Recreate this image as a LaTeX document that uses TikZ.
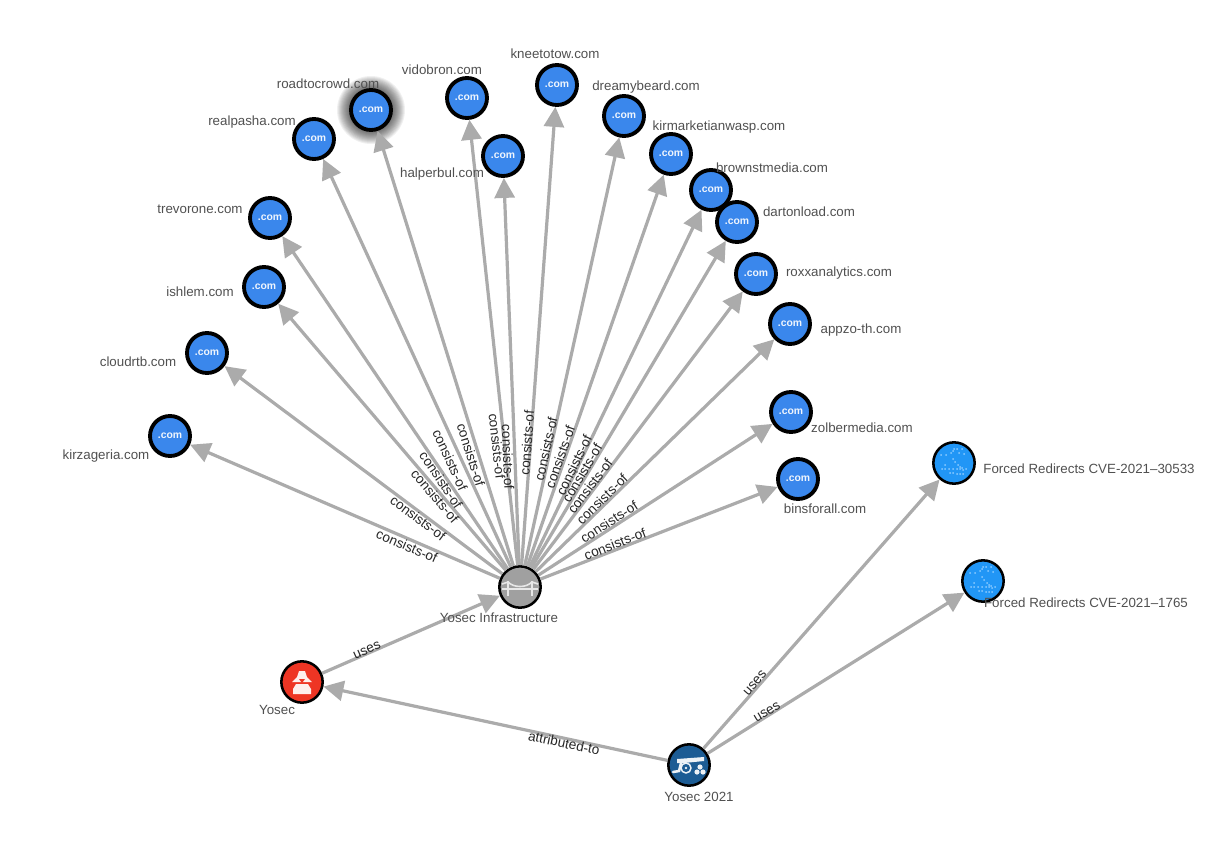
\documentclass[tikz,border=0pt]{standalone}
\usepackage{fontspec}
\setmainfont{Liberation Sans}
\usetikzlibrary{arrows.meta}
\definecolor{edgegrey}{HTML}{ABABAB}
\definecolor{domblue}{HTML}{3A87EC}
\definecolor{infragrey}{HTML}{A0A0A0}
\definecolor{actorred}{HTML}{EE3524}
\definecolor{campblue}{HTML}{1C5C94}
\definecolor{patblue}{HTML}{2196F6}
\definecolor{patdot}{HTML}{8CCBFF}
\definecolor{labgrey}{HTML}{505050}
\tikzset{
  edge/.style={draw=edgegrey,line width=2.4pt,-{Triangle[length=15pt,width=15pt]}},
  edgelab/.style={font=\fontsize{10.2pt}{12pt}\selectfont,text=black!85,inner sep=0pt},
  nodelab/.style={font=\fontsize{10pt}{12pt}\selectfont,text=labgrey,inner sep=0pt},
  dom/.style={circle,draw=black,fill=domblue,line width=2.9pt,minimum size=30pt,inner sep=0pt,text=white!92!domblue,font=\bfseries\fontsize{7.8pt}{9pt}\selectfont},
  sdo/.style={circle,draw=black,line width=1.9pt,minimum size=31pt,inner sep=0pt},
  iconline/.style={draw=white!75!infragrey,line width=1.5pt},
}
\newcommand{\patdots}[1]{%
  \begin{scope}[shift={(#1)}]
    \foreach \dx/\dy in {-13/-8,-8/-8,-3/-10,0/-14,3/-14,8/-14,-1/-12,5/-10,10/-9,
       -1/-4,1/-1,4/2,6/4,8/5,
       -12/6,-9/6,-5/6,-1/6,3/6,6/6,9/7,12/6,3/11,6/11,9/11,-4/10,-1/10,-9/2}
      \fill[patdot] (\dx,\dy) circle[radius=1];
  \end{scope}}
\begin{document}
\begin{tikzpicture}[x=0.75pt,y=-0.75pt]
\useasboundingbox (0,0) rectangle (1218,850);
% glow behind the selected node
\foreach \r in {22,23,...,34}
  \fill[black,opacity=0.06] (371,110) circle[radius=\r];
% domain nodes
\foreach \n/\x/\y in {kirz/170/436,cloud/207/353,ishl/264/287,trev/270/218,real/314/139,road/371/110,
  vido/467/98,halp/503/156,knee/557/85,drea/624/116,kirm/671/154,brow/711/190,dart/737/222,
  roxx/756/274,appz/790/324,zolb/791/412,bins/798/479}
  \node[dom] (\n) at (\x,\y) {.com};
% other nodes
\node[sdo,fill=infragrey] (infra) at (520,587) {};
\node[sdo,fill=actorred] (yosec) at (302,682) {};
\node[sdo,fill=campblue] (camp) at (689,765) {};
\node[sdo,fill=patblue] (cvea) at (954,463) {};
\node[sdo,fill=patblue] (cveb) at (983,581) {};
% bridge icon
\begin{scope}[shift={(infra.center)}]
  \draw[iconline] (-18,2) -- (18,2);
  \draw[iconline] (-12,-6) -- (-12,9) (12,-6) -- (12,9);
  \draw[iconline,line width=1.2pt] (-18,-3) -- (-12,-5) .. controls (-6,1) and (6,1) .. (12,-5) -- (18,-3);
\end{scope}
% threat actor icon
\begin{scope}[shift={(yosec.center)}]
  \fill[white!92!actorred] (-3,-11) -- (3,-11) -- (5,-5) -- (10,0) -- (-10,0) -- (-5,-5) -- cycle;
  \fill[white!92!actorred] (-6,2) -- (6,2) -- (9,7) -- (9,12) -- (-9,12) -- (-9,7) -- cycle;
  \fill[actorred] (-3,-3) -- (3,-3) -- (0,1) -- cycle;
\end{scope}
% cannon icon
\begin{scope}[shift={(camp.center)}]
  \fill[white!92!campblue] (-12,-6) -- (15,-8) -- (15,-4) -- (-5,-2) -- (-12,-2) -- cycle;
  \draw[white!92!campblue,line width=1.1pt] (-3,3) circle[radius=5];
  \fill[white!92!campblue] (-3,3) circle[radius=1.4];
  \draw[white!92!campblue,line width=1.9pt,line cap=round] (-16,7) -- (-10,6) -- (-8,-2);
  \fill[white!92!campblue] (11,2) circle[radius=2.6] (8,7) circle[radius=2.6] (14,7) circle[radius=2.6];
\end{scope}
\patdots{cvea.center}
\patdots{cveb.center}
% consists-of connectors
\foreach \n/\tx/\ty/\lx/\ly in {kirz/170/436/407/546,cloud/207/353/418/518,ishl/264/287/435/496,
  trev/270/218/441/480,real/314/139/450/460,road/371/110/471/455,vido/467/98/497/446,
  halp/503/156/508/457,knee/557/85/527/443,drea/624/116/546/449,kirm/671/154/560/457,
  brow/711/190/574/465,dart/737/222/582/473,roxx/756/274/590/486,appz/790/324/602/499,
  zolb/791/412/609/522,bins/798/479/615/544}{
  \draw[edge] (infra) -- (\n);
  \pgfmathsetmacro{\rot}{-atan((\ty-587)/(\tx-520))}
  \node[edgelab,rotate=\rot] (lab-\n) at (\lx,\ly) {consists-of};
}
% other connectors
\draw[edge] (yosec) -- (infra);
\draw[edge] (camp) -- (yosec);
\draw[edge] (camp) -- (cvea);
\draw[edge] (camp) -- (cveb);
\node[edgelab,rotate=24] (lab-uses) at (367,650) {uses};
\node[edgelab,rotate=-12] (lab-attr) at (564,743) {attributed-to};
\node[edgelab,rotate=49] (lab-usea) at (755,683) {uses};
\node[edgelab,rotate=31] (lab-useb) at (767,712) {uses};
% node labels
\foreach \n/\x/\y/\t in {kirz/106/456/kirzageria.com,cloud/138/362/cloudrtb.com,ishl/200/292/ishlem.com,
  trev/200/209/trevorone.com,real/252/122/realpasha.com,road/328/84/roadtocrowd.com,
  vido/442/70/vidobron.com,halp/442/174/halperbul.com,knee/555/54/kneetotow.com,
  drea/646/87/dreamybeard.com,kirm/719/127/kirmarketianwasp.com,brow/772/168/brownstmedia.com,
  dart/809/212/dartonload.com,roxx/839/273/roxxanalytics.com,appz/861/330/appzo-th.com,
  zolb/862/428/zolbermedia.com,bins/825/509/binsforall.com,
  infra/499/618/Yosec Infrastructure,yosec/277/710/Yosec,camp/699/797/Yosec 2021,
  cvea/1089/469/Forced Redirects CVE-2021–30533,cveb/1086/603/Forced Redirects CVE-2021–1765}
  \node[nodelab] (name-\n) at (\x,\y) {\t};
\end{tikzpicture}
\end{document}
